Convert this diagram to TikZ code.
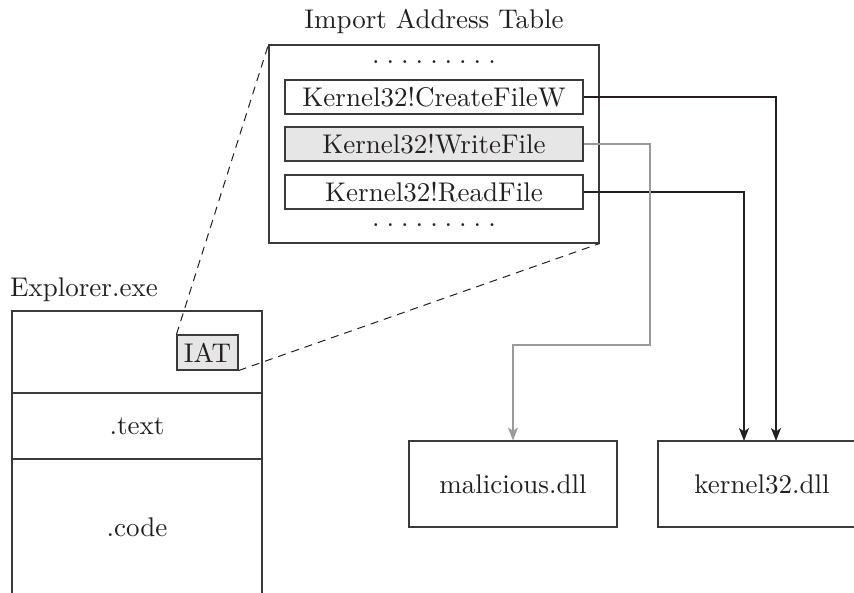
\documentclass[tikz,border=0pt]{standalone}
\usepackage{fontspec}
\setmainfont{lmroman10-regular}[Extension=.otf]
\usetikzlibrary{arrows.meta,calc}
\definecolor{ink}{HTML}{231F20}
\definecolor{boxline}{HTML}{3A3A3A}
\definecolor{lightfill}{HTML}{E6E6E7}
\definecolor{greyline}{HTML}{9A9A9A}
\newcommand{\dotrow}{.\hspace{7pt}.\hspace{7pt}.\hspace{7pt}.\hspace{7pt}.\hspace{7pt}.\hspace{7pt}.\hspace{7pt}.\hspace{7pt}.}
\tikzset{
  txt/.style={text=ink,font=\fontsize{27}{31}\selectfont,inner sep=0pt},
  entry/.style={txt,draw=boxline,line width=1.1pt,minimum width=298pt,minimum height=34pt},
  plainbox/.style={txt,draw=boxline,line width=1.1pt},
  conn/.style={draw=ink,line width=1.6pt,-{Stealth[length=13pt,width=10pt,inset=3.5pt]}},
  gconn/.style={draw=greyline,line width=1.4pt,-{Stealth[length=13pt,width=10pt,inset=3.5pt]}},
  zoomline/.style={draw=ink,line width=1pt,dash pattern=on 8pt off 6pt},
}
\begin{document}
\begin{tikzpicture}[x=1pt,y=-1pt]
\useasboundingbox (0,0) rectangle (854,592);
% Import Address Table
\node[txt,anchor=base] (title) at (434,28) {Import Address Table};
\node[plainbox,minimum width=330pt,minimum height=198pt] (iat) at (434,144) {};
\node[txt] (dotsA) at (434,62) {\dotrow};
\node[entry] (cf) at (434,97) {Kernel32!CreateFileW};
\node[entry,fill=lightfill] (wf) at (434,144) {Kernel32!WriteFile};
\node[entry] (rf) at (434,192) {Kernel32!ReadFile};
\node[txt] (dotsB) at (434,225) {\dotrow};
% Explorer.exe
\node[txt,anchor=base west] (exlabel) at (10,296) {Explorer.exe};
\node[plainbox,minimum width=250pt,minimum height=82pt] (sec1) at (137,352) {};
\node[plainbox,minimum width=250pt,minimum height=66pt] (sec2) at (137,426) {.text};
\node[plainbox,minimum width=250pt,minimum height=136pt] (sec3) at (137,527) {.code};
\node[plainbox,fill=lightfill,minimum width=61pt,minimum height=35pt] (small) at (207.5,352.5) {IAT};
% DLLs
\node[plainbox,minimum width=208pt,minimum height=86pt] (mdll) at (513,484) {malicious.dll};
\node[plainbox,minimum width=208pt,minimum height=86pt] (kdll) at (762,484) {kernel32.dll};
% zoom lines
\draw[zoomline] (small.north west) -- (iat.north west);
\draw[zoomline] (small.south east) -- (iat.south east);
% connectors
\coordinate (kA) at (776,441);
\coordinate (kB) at (744,441);
\coordinate (gbend) at (650,345);
\draw[conn] (cf.east) -| (kA);
\draw[conn] (rf.east) -| (kB);
\draw[gconn] (wf.east) -| (gbend) -| (mdll.north);
\end{tikzpicture}
\end{document}
